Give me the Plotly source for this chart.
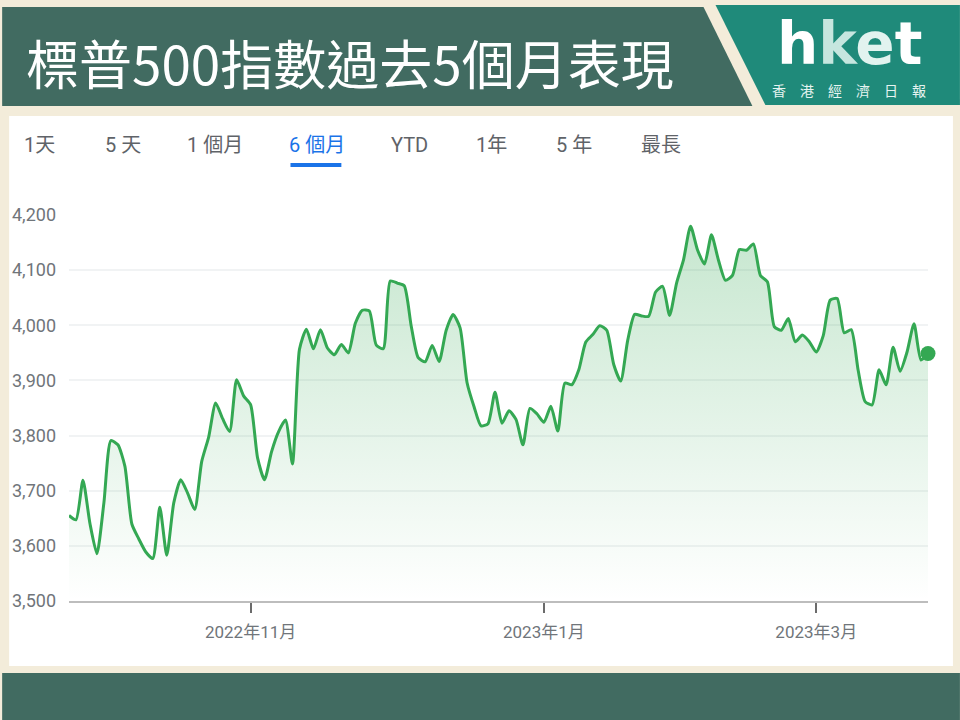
import plotly.graph_objects as go
import pandas as pd

# ---------------- data ----------------
close_sep = [3655.04, 3647.29, 3719.04, 3640.47, 3585.62]
close_oct = [3678.43, 3790.93, 3783.28, 3744.52, 3639.66, 3612.39, 3588.84, 3577.03, 3669.91, 3583.07,
             3677.95, 3719.98, 3695.16, 3665.78, 3752.75, 3797.34, 3859.11, 3830.60, 3807.30, 3901.06, 3871.98]
close_nov = [3856.10, 3759.69, 3719.89, 3770.55, 3806.80, 3828.11, 3748.57, 3956.37, 3992.93, 3957.25,
             3991.73, 3958.79, 3946.56, 3965.34, 3949.94, 4003.58, 4027.26, 4026.12, 3963.94, 3957.63, 4080.11]
close_dec = [4076.57, 4071.70, 3998.84, 3941.26, 3933.92, 3963.51, 3934.38, 3990.56, 4019.65, 3995.32,
             3895.75, 3852.36, 3817.66, 3821.62, 3878.44, 3822.39, 3844.82, 3829.25, 3783.22, 3849.28, 3839.50]
close_jan = [3824.14, 3852.97, 3808.10, 3895.08, 3892.09, 3919.25, 3969.61, 3983.17, 3999.09, 3990.97,
             3928.86, 3898.85, 3972.61, 4019.81, 4016.95, 4016.22, 4060.43, 4070.56, 4017.77, 4076.60]
close_feb = [4119.21, 4179.76, 4136.48, 4111.08, 4164.00, 4117.86, 4081.50, 4090.46, 4137.29, 4136.13,
             4147.60, 4090.41, 4079.09, 3997.34, 3991.05, 4012.32, 3970.04, 3982.24, 3970.15]
close_mar = [3951.39, 3981.35, 4045.64, 4048.42, 3986.37, 3992.01, 3918.32, 3861.59, 3855.76, 3919.29,
             3891.93, 3960.28, 3916.64, 3951.57, 4002.87, 3936.97, 3948.72]
close = close_sep + close_oct + close_nov + close_dec + close_jan + close_feb + close_mar

market_holidays = ['2022-11-24', '2022-12-26', '2023-01-02', '2023-01-16', '2023-02-20']
dates = [d.strftime('%Y-%m-%d') for d in pd.bdate_range('2022-09-26', '2023-03-23')
         if d.strftime('%Y-%m-%d') not in market_holidays]

y_tickvals = [3500, 3600, 3700, 3800, 3900, 4000, 4100, 4200]
y_ticktext = ['3,500', '3,600', '3,700', '3,800', '3,900', '4,000', '4,100', '4,200']
x_tickvals = ['2022-11-01', '2023-01-03', '2023-03-01']
x_ticktext = ['2022年11月', '2023年1月', '2023年3月']
tabs = ['1天', '5 天', '1 個月', '6 個月', 'YTD', '1年', '5 年', '最長']
tab_left = [20, 101, 183, 286, 388, 473, 553, 638]
active_tab = 3
title = '標普500指數過去5個月表現'
logo_word = 'hket'
logo_sub = '香\u3000港\u3000經\u3000濟\u3000日\u3000報'

# ---------------- layout helpers ----------------
L, R, T, B = 67, 928, 215, 601
W, H = 960, 720


def X(p):
    return (p - L) / (R - L)


def Y(p):
    return (B - p) / (B - T)


GREEN = '#34a853'
DARK = '#416b61'
TEAL = '#1f8a7a'
CREAM = '#f3ecda'
GRAY = '#70757a'
NUMFONT = 'Liberation Sans Narrow, Roboto, Noto Sans CJK TC'

fig = go.Figure()
fig.add_trace(go.Scatter(
    x=dates, y=close, mode='lines',
    line=dict(color=GREEN, width=3, shape='spline', smoothing=0.6),
    fill='tozeroy',
    fillgradient=dict(type='vertical', start=3500, stop=4180,
                      colorscale=[[0, 'rgba(52,168,83,0.0)'], [1, 'rgba(52,168,83,0.28)']]),
    hoverinfo='skip', showlegend=False))
fig.add_trace(go.Scatter(
    x=[dates[-1]], y=[close[-1]], mode='markers',
    marker=dict(size=15, color=GREEN), cliponaxis=False,
    hoverinfo='skip', showlegend=False))

shapes = [
    # white panel
    dict(type='rect', xref='paper', yref='paper', x0=X(7), x1=X(953), y0=Y(666), y1=Y(116),
         fillcolor='white', line=dict(width=0), layer='below'),
    # header band
    dict(type='path', xref='paper', yref='paper',
         path=f'M {X(0)},{Y(7)} L {X(703)},{Y(7)} L {X(752)},{Y(106)} L {X(0)},{Y(106)} Z',
         fillcolor=DARK, line=dict(width=0), layer='below'),
    # logo band
    dict(type='path', xref='paper', yref='paper',
         path=f'M {X(715)},{Y(5)} L {X(960)},{Y(5)} L {X(960)},{Y(105)} L {X(765)},{Y(105)} Z',
         fillcolor=TEAL, line=dict(width=0), layer='below'),
    # bottom band
    dict(type='rect', xref='paper', yref='paper', x0=X(0), x1=X(960), y0=Y(720), y1=Y(673),
         fillcolor=DARK, line=dict(width=0), layer='below'),
    # active tab underline
    dict(type='rect', xref='paper', yref='paper', x0=X(289), x1=X(340), y0=Y(167), y1=Y(163),
         fillcolor='#1a73e8', line=dict(width=0), layer='above'),
]

logo_html = (f'<span style="color:#ffffff">{logo_word[0]}</span>'
             f'<span style="color:#c6e6df">{logo_word[1]}</span>'
             f'<span style="color:#e2f3ef">{logo_word[2]}</span>'
             f'<span style="color:#ffffff">{logo_word[3]}</span>')

annotations = [
    dict(text=title, x=X(22), y=Y(62), xref='paper', yref='paper', xanchor='left', yanchor='middle',
         showarrow=False, font=dict(family='Noto Sans CJK TC', size=53, color='white')),
    dict(text=logo_html, x=X(849), y=Y(79), xref='paper', yref='paper', xanchor='center', yanchor='bottom',
         showarrow=False, borderpad=0,
         font=dict(family='DejaVu Sans', size=58, color='white', weight='bold')),
    dict(text=logo_sub, x=X(849), y=Y(79), xref='paper', yref='paper', xanchor='center', yanchor='top',
         showarrow=False, borderpad=0, font=dict(family='Noto Sans CJK TC', size=14, color='#e6f4f1')),
]
for i, (t, lx) in enumerate(zip(tabs, tab_left)):
    annotations.append(dict(
        text=t, x=X(lx), y=Y(145), xref='paper', yref='paper', xanchor='left', yanchor='middle',
        showarrow=False,
        font=dict(family='Roboto, Noto Sans CJK TC', size=20,
                  color='#1a73e8' if i == active_tab else '#5f6368')))

fig.update_layout(
    width=W, height=H,
    margin=dict(l=L, r=W - R, t=T, b=H - B, pad=0),
    paper_bgcolor=CREAM, plot_bgcolor='rgba(0,0,0,0)',
    shapes=shapes, annotations=annotations,
    showlegend=False,
    xaxis=dict(type='category', range=[0, len(dates) - 1], showgrid=False, zeroline=False,
               showline=True, linecolor='#bdbdbd', linewidth=2,
               ticks='outside', ticklen=10, tickwidth=2, tickcolor='#6b6b6b',
               tickvals=x_tickvals, ticktext=x_ticktext, ticklabelstandoff=5,
               tickfont=dict(family=NUMFONT, size=17, color=GRAY)),
    yaxis=dict(range=[3500, 4200], tickvals=y_tickvals, ticktext=y_ticktext,
               showgrid=True, gridcolor='#f1f3f4', gridwidth=1.5, zeroline=False,
               ticks='', ticklabelstandoff=12,
               tickfont=dict(family=NUMFONT, size=18, color=GRAY)),
)

fig.write_html('out.html', config={'displayModeBar': False},
               post_script="document.body.style.margin='0';document.body.style.padding='0';")
